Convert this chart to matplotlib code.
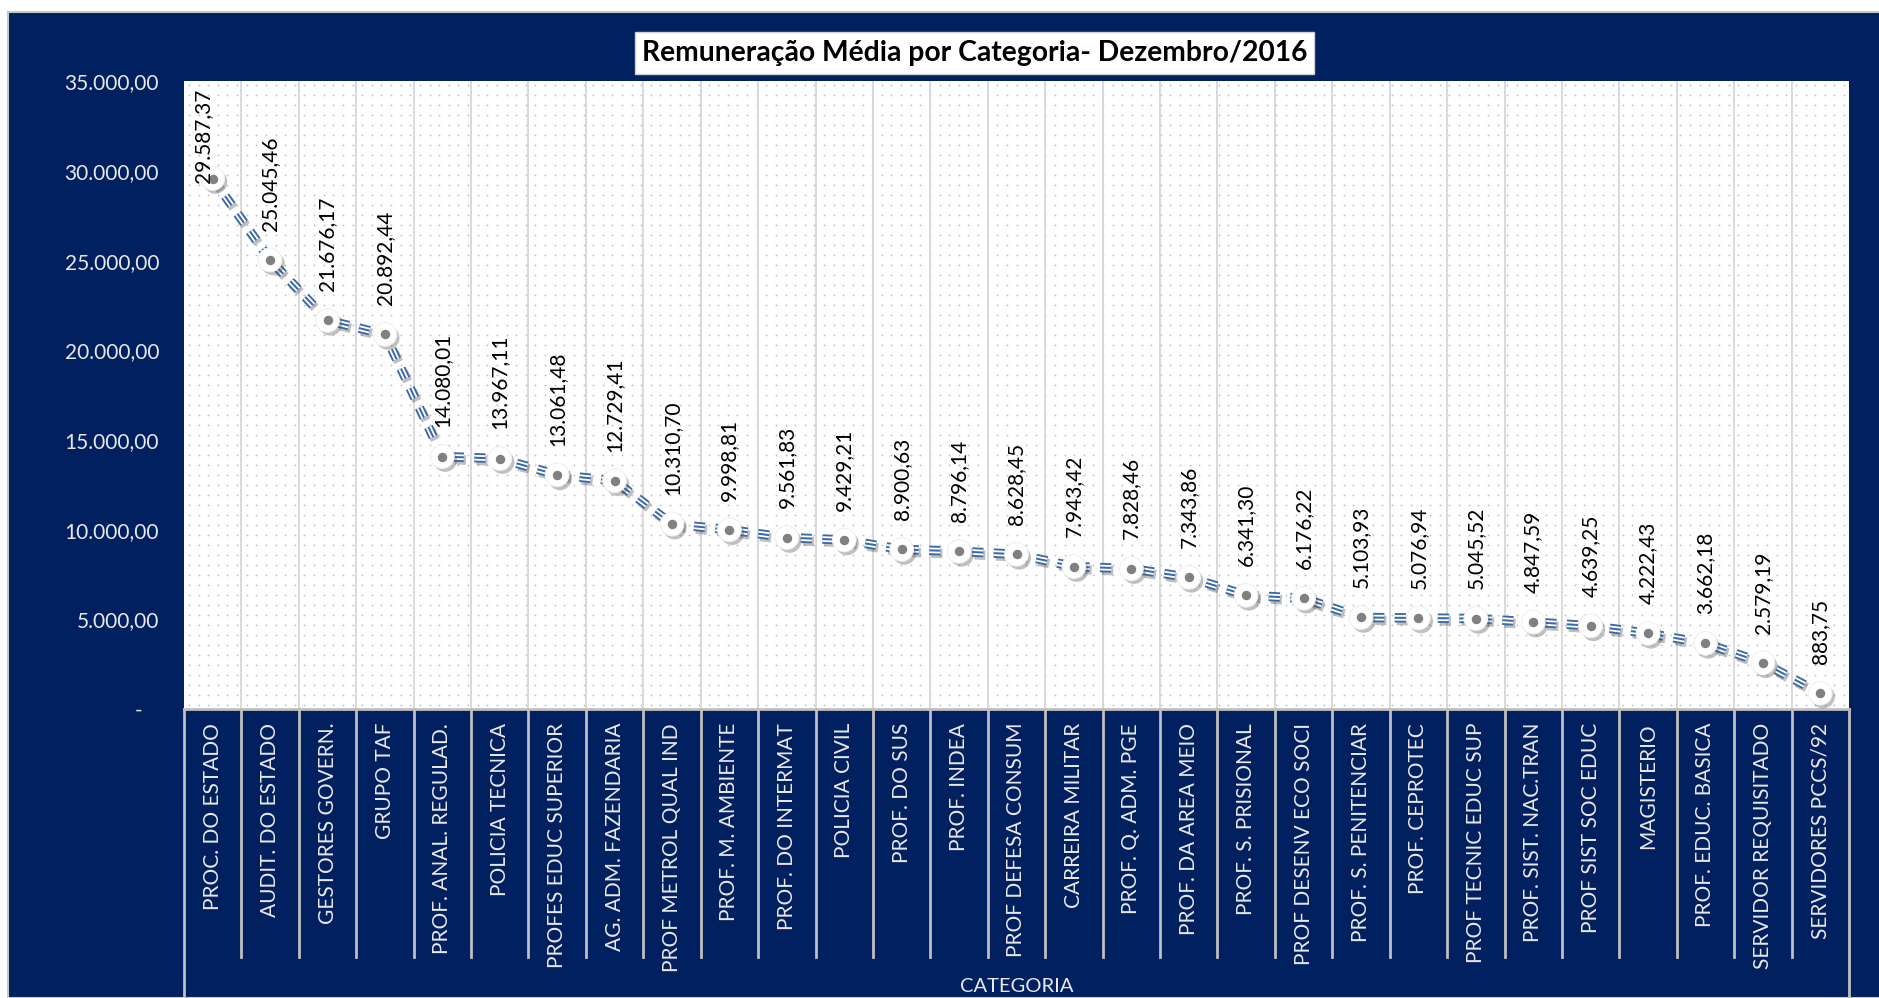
import numpy as np
import matplotlib
matplotlib.use("Agg")
import matplotlib.pyplot as plt
import matplotlib.patheffects as pe
from matplotlib.patches import Rectangle
from matplotlib.lines import Line2D
from matplotlib.ticker import FuncFormatter, MultipleLocator

plt.rcParams['font.family'] = ['Lato', 'DejaVu Sans']
plt.rcParams['lines.scale_dashes'] = False

categorias = [
    "PROC. DO ESTADO", "AUDIT. DO ESTADO", "GESTORES GOVERN.", "GRUPO TAF",
    "PROF. ANAL. REGULAD.", "POLICIA TECNICA", "PROFES EDUC SUPERIOR",
    "AG. ADM. FAZENDARIA", "PROF METROL QUAL IND", "PROF. M. AMBIENTE",
    "PROF. DO INTERMAT", "POLICIA CIVIL", "PROF. DO SUS", "PROF. INDEA",
    "PROF DEFESA CONSUM", "CARREIRA MILITAR", "PROF. Q. ADM. PGE",
    "PROF. DA AREA MEIO", "PROF. S. PRISIONAL", "PROF DESENV ECO SOCI",
    "PROF. S. PENITENCIAR", "PROF. CEPROTEC", "PROF TECNIC EDUC SUP",
    "PROF. SIST. NAC.TRAN", "PROF SIST SOC EDUC", "MAGISTERIO",
    "PROF. EDUC. BASICA", "SERVIDOR REQUISITADO", "SERVIDORES PCCS/92",
]
remuneracao = [
    29587.37, 25045.46, 21676.17, 20892.44, 14080.01, 13967.11, 13061.48,
    12729.41, 10310.70, 9998.81, 9561.83, 9429.21, 8900.63, 8796.14,
    8628.45, 7943.42, 7828.46, 7343.86, 6341.30, 6176.22, 5103.93,
    5076.94, 5045.52, 4847.59, 4639.25, 4222.43, 3662.18, 2579.19, 883.75,
]
titulo = "Remuneração Média por Categoria- Dezembro/2016"

NAVY = "#002060"
LINE = "#3a69a5"
GRID = "#d9d9d9"
SEP = "#bfbfbf"
TXT = "#e8e8e8"


def br(v):
    s = f"{v:,.2f}"
    return s.replace(",", "X").replace(".", ",").replace("X", ".")


W, H = 1879, 998
fig = plt.figure(figsize=(W / 100, H / 100), dpi=100)
fig.patch.set_facecolor("white")

# navy frame (white margin top / left)
fig.patches.append(Rectangle((8 / W, 0), 1, 1 - 12 / H, transform=fig.transFigure,
                             facecolor=NAVY, edgecolor="#c8c8c8", lw=1.5, zorder=-5))

ax = fig.add_axes([184 / W, 1 - 709 / H, (1849 - 184) / W, (709 - 81.5) / H])
ax.set_facecolor("white")
x = np.arange(len(categorias))
ax.set_xlim(-0.5, len(categorias) - 0.5)
ax.set_ylim(0, 35000)

# dotted fill pattern of the plot area
gx, gy = np.meshgrid(np.linspace(0.003, 0.997, 173), np.linspace(0.006, 0.994, 63))
ax.scatter(gx.ravel(), gy.ravel(), s=1.8, color="#c2c2c2", lw=0,
           transform=ax.transAxes, zorder=0.5)

for b in np.arange(0.5, len(categorias) - 1, 1.0):
    ax.axvline(b, color=GRID, lw=1.4, zorder=1)

for s in ax.spines.values():
    s.set_visible(False)

# category boxes below the plot
tb = ax.get_xaxis_transform()
for b in np.arange(-0.5, len(categorias), 1.0):
    outer = b in (-0.5, len(categorias) - 0.5)
    ax.add_line(Line2D([b, b], [0, -0.465 if outer else -0.395], transform=tb,
                       color=SEP, lw=2, clip_on=False, zorder=2))
ax.add_line(Line2D([-0.5, len(categorias) - 0.5], [0, 0], transform=tb,
                   color=SEP, lw=2, clip_on=False, zorder=2))

# triple dashed line
dash = (0, (8, 7.5))
ax.plot(x, remuneracao, color=LINE, lw=6.8, linestyle=dash, dash_capstyle="butt",
        zorder=3, path_effects=[pe.SimpleLineShadow(offset=(1.5, -2), alpha=0.25),
                                pe.Normal()])
ax.plot(x, remuneracao, color="white", lw=4.1, linestyle=dash,
        dash_capstyle="butt", zorder=4)
ax.plot(x, remuneracao, color=LINE, lw=1.45, linestyle=dash,
        dash_capstyle="butt", zorder=5)

# markers
ax.plot(x, remuneracao, linestyle="none", marker="o", ms=17, mfc="white",
        mec="#f0f0f0", mew=0.8, zorder=6,
        path_effects=[pe.SimplePatchShadow(offset=(2, -2.5), alpha=0.35),
                      pe.Normal()])
ax.plot(x, remuneracao, linestyle="none", marker="o", ms=5.8, mfc="#808080",
        mec="#808080", zorder=7)

# data labels
for i, v in enumerate(remuneracao):
    if v > 28000:
        ax.annotate(br(v), (i, 35000), xytext=(-7, -5), textcoords="offset points",
                    rotation=90, ha="center", va="top", fontsize=15,
                    color="black", zorder=8)
    else:
        ax.annotate(br(v), (i, v), xytext=(0, 21), textcoords="offset points",
                    rotation=90, ha="center", va="bottom", fontsize=15,
                    color="black", zorder=8)

ax.yaxis.set_major_locator(MultipleLocator(5000))
ax.yaxis.set_major_formatter(FuncFormatter(lambda v, p: "-   " if v == 0 else br(v)))
ax.tick_params(axis="y", length=0, pad=18, labelsize=15, labelcolor=TXT)
ax.set_xticks(x)
ax.set_xticklabels(categorias, rotation=90, va="top", ha="center")
ax.tick_params(axis="x", length=0, pad=10, labelsize=15, labelcolor=TXT)

ax.set_xlabel("CATEGORIA", color=TXT, fontsize=14.5, va="center")
ax.xaxis.set_label_coords(0.5, -0.443)

# title box
fig.patches.append(Rectangle((635 / W, 1 - 74 / H), (1314 - 635) / W, 42 / H,
                             transform=fig.transFigure, facecolor="white",
                             edgecolor="#d0d0d0", lw=1, zorder=1))
fig.text(974.5 / W, 1 - 53 / H, titulo, ha="center", va="center",
         fontsize=20.3, fontweight="bold", color="black")

fig.savefig("out.png", dpi=100, facecolor=fig.get_facecolor())
